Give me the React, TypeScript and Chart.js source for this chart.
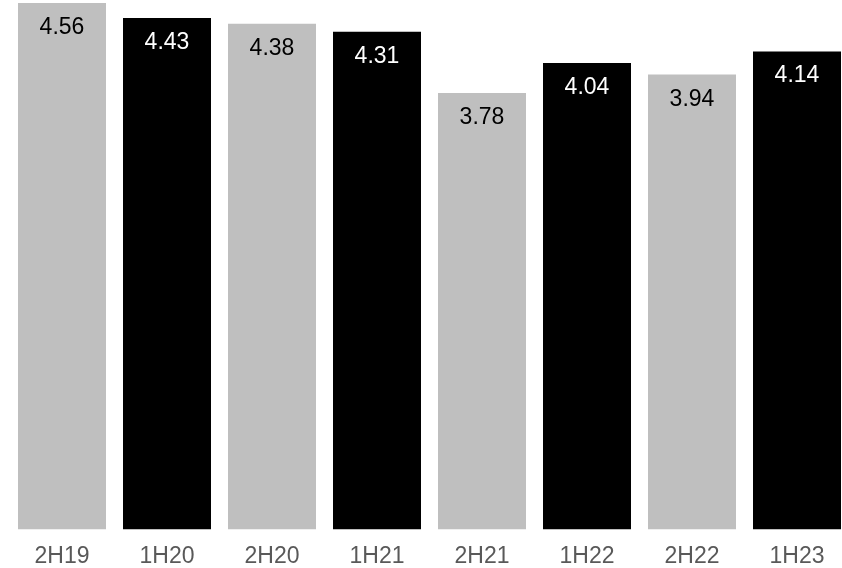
import React, { useEffect, useRef } from "react";
import { Chart, registerables } from "chart.js";

Chart.register(...registerables);

const categories = ["2H19", "1H20", "2H20", "1H21", "2H21", "1H22", "2H22", "1H23"];
const values = [4.56, 4.43, 4.38, 4.31, 3.78, 4.04, 3.94, 4.14];
const barColors = ["#bfbfbf", "#000000", "#bfbfbf", "#000000", "#bfbfbf", "#000000", "#bfbfbf", "#000000"];
const labelColors = ["#000000", "#ffffff", "#000000", "#ffffff", "#000000", "#ffffff", "#000000", "#ffffff"];

const FONT = "'Liberation Sans', Arial, sans-serif";

const valueLabels = {
  id: "valueLabels",
  afterDatasetsDraw(chart: any) {
    const ctx = chart.ctx;
    const meta = chart.getDatasetMeta(0);
    ctx.save();
    ctx.font = `23px ${FONT}`;
    ctx.textAlign = "center";
    ctx.textBaseline = "alphabetic";
    meta.data.forEach((bar: any, i: number) => {
      ctx.fillStyle = labelColors[i];
      ctx.fillText(values[i].toFixed(2), bar.x, bar.y + 31);
    });
    ctx.restore();
  },
};

export default function App() {
  const ref = useRef<HTMLCanvasElement>(null);
  useEffect(() => {
    if (!ref.current) return;
    const chart = new Chart(ref.current, {
      type: "bar",
      data: {
        labels: categories,
        datasets: [
          {
            data: values,
            backgroundColor: barColors,
            borderWidth: 0,
            categoryPercentage: 1,
            barPercentage: 88 / 105,
          },
        ],
      },
      options: {
        animation: false,
        responsive: false,
        layout: { padding: { left: 9.5, right: 0.5, top: 3, bottom: 0 } },
        plugins: { legend: { display: false }, tooltip: { enabled: false } },
        scales: {
          x: {
            grid: { display: false, drawTicks: false },
            border: { display: false },
            afterFit: (s: any) => {
              s.height = 38.5;
            },
            ticks: {
              color: "#595959",
              padding: 16,
              maxRotation: 0,
              font: { family: FONT, size: 23, lineHeight: 1 },
            },
          },
          y: {
            display: false,
            min: 0,
            max: 4.56,
          },
        },
      },
      plugins: [valueLabels],
    });
    return () => chart.destroy();
  }, []);
  return (
    <div style={{ position: "absolute", left: 0, top: 0, width: 842, height: 568, overflow: "hidden", background: "#fff" }}>
      <canvas ref={ref} width={850} height={568} style={{ display: "block" }} />
    </div>
  );
}
